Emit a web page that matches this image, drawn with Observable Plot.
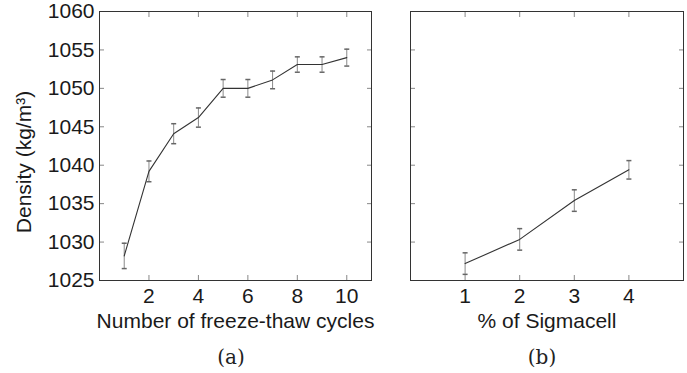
<!DOCTYPE html>
<html><head><meta charset="utf-8">
<script src="https://cdn.jsdelivr.net/npm/d3@7"></script>
<script src="https://cdn.jsdelivr.net/npm/@observablehq/plot@0.6"></script>
<style>
body{margin:0;background:#fff;}
#fig{position:relative;width:687px;height:373px;overflow:hidden;background:#fff;}
#fig svg{position:absolute;top:0;}
.cap{position:absolute;top:345px;width:80px;text-align:center;font-family:"DejaVu Serif",serif;font-size:20px;line-height:24px;color:#222;}
</style></head><body>
<div id="fig"></div>
<script>
// Panel (a): density vs number of freeze-thaw cycles
const cycles = [1, 2, 3, 4, 5, 6, 7, 8, 9, 10];
const densityA = [1028.2, 1039.2, 1044.1, 1046.2, 1050.0, 1050.0, 1051.1, 1053.1, 1053.1, 1054.0];
const errorA = [1.65, 1.35, 1.3, 1.25, 1.15, 1.15, 1.15, 1.0, 1.0, 1.1];
// Panel (b): density vs % of Sigmacell
const sigmacell = [1, 2, 3, 4];
const densityB = [1027.2, 1030.35, 1035.4, 1039.4];
const errorB = [1.4, 1.4, 1.4, 1.2];
// Ticks and labels
const ticksXA = [2, 4, 6, 8, 10];
const ticksXB = [1, 2, 3, 4];
const ticksY = [1025, 1030, 1035, 1040, 1045, 1050, 1055, 1060];
const yLabel = "Density (kg/m³)";
const xLabelA = "Number of freeze-thaw cycles";
const xLabelB = "% of Sigmacell";
const captions = ["(a)", "(b)"];

const capSymbol = {draw(ctx, size) { const r = Math.sqrt(size / Math.PI); ctx.moveTo(-r, 0); ctx.lineTo(r, 0); }};

function panel({xs, ys, es, xDomain, xTicks, xLabel, showY, width, marginLeft, marginRight}) {
  const rows = xs.map((x, i) => ({x, y: ys[i], lo: ys[i] - es[i], hi: ys[i] + es[i]}));
  return Plot.plot({
    width, height: 340, marginLeft, marginRight, marginTop: 11, marginBottom: 60,
    style: {fontFamily: '"Liberation Sans", Arial, sans-serif', fontSize: "21px", color: "#1a1a1a", background: "transparent", overflow: "visible"},
    x: {domain: xDomain},
    y: {domain: [1025, 1060]},
    marks: [
      Plot.axisX(xTicks, {anchor: "bottom", tickSize: 0, tickPadding: 8, label: xLabel, labelAnchor: "center", labelArrow: "none", labelOffset: 47}),
      Plot.axisX(xTicks, {anchor: "bottom", tickSize: -5, tickFormat: () => "", label: null, stroke: "#888"}),
      Plot.axisX(xTicks, {anchor: "top", tickSize: -5, tickFormat: () => "", label: null, stroke: "#888"}),
      showY ? Plot.axisY(ticksY, {anchor: "left", tickSize: 0, tickPadding: 5, tickFormat: d => String(d), label: null}) : null,
      showY ? Plot.text([yLabel], {frameAnchor: "left", rotate: -90, textAnchor: "middle", lineAnchor: "middle", dx: -75, dy: 16}) : null,
      Plot.axisY(ticksY, {anchor: "left", tickSize: -5, tickFormat: () => "", label: null, stroke: "#888"}),
      Plot.axisY(ticksY, {anchor: "right", tickSize: -5, tickFormat: () => "", label: null, stroke: "#888"}),
      Plot.frame({stroke: "#333"}),
      Plot.ruleX(rows, {x: "x", y1: "lo", y2: "hi", stroke: "#8a8a8a"}),
      Plot.dot(rows, {x: "x", y: "hi", symbol: capSymbol, r: 2.5, stroke: "#666"}),
      Plot.dot(rows, {x: "x", y: "lo", symbol: capSymbol, r: 2.5, stroke: "#666"}),
      Plot.line(rows, {x: "x", y: "y", stroke: "#333", strokeWidth: 1.1})
    ]
  });
}

const fig = document.getElementById("fig");
const a = panel({xs: cycles, ys: densityA, es: errorA, xDomain: [0, 11], xTicks: ticksXA, xLabel: xLabelA, showY: true, width: 390, marginLeft: 99, marginRight: 19});
a.style.left = "0px";
fig.appendChild(a);
const b = panel({xs: sigmacell, ys: densityB, es: errorB, xDomain: [0, 5], xTicks: ticksXB, xLabel: xLabelB, showY: false, width: 297, marginLeft: 20, marginRight: 4});
b.style.left = "390px";
fig.appendChild(b);

[[captions[0], 231], [captions[1], 542]].forEach(([t, cx]) => {
  const d = document.createElement("div");
  d.className = "cap";
  d.textContent = t;
  d.style.left = (cx - 40) + "px";
  fig.appendChild(d);
});
</script>
</body></html>
